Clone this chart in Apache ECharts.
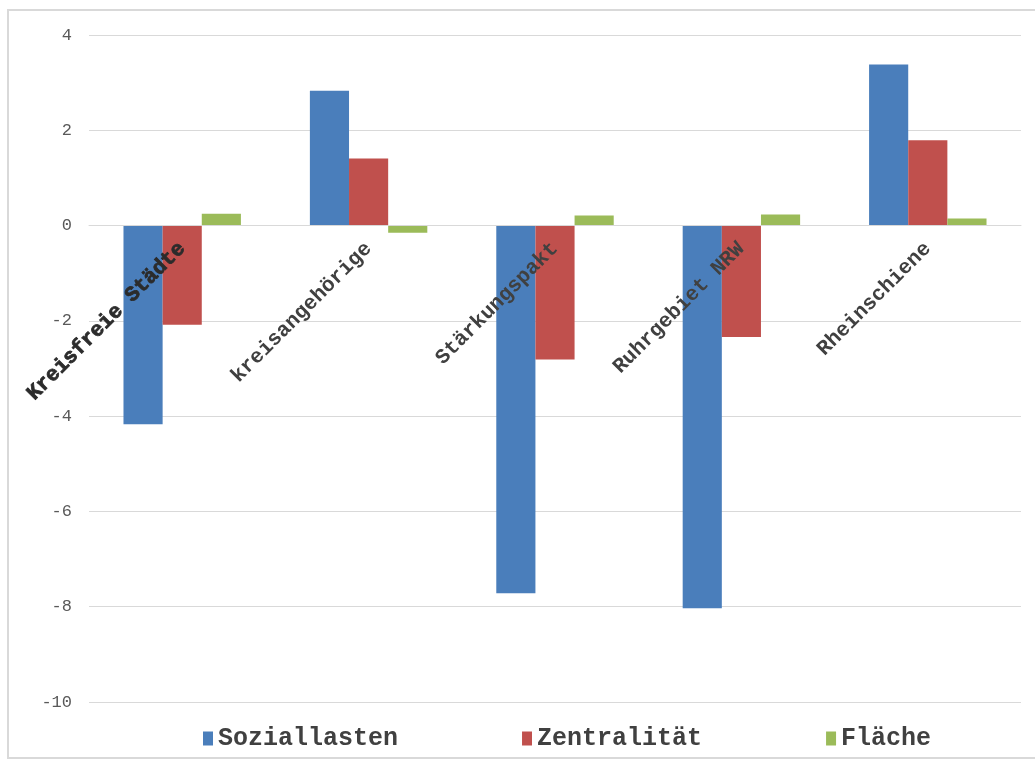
<!DOCTYPE html>
<html>
<head>
<meta charset="utf-8">
<script src="https://cdn.jsdelivr.net/npm/echarts@6/dist/echarts.min.js"></script>
<style>
  html, body { margin: 0; padding: 0; background: #ffffff; }
  #chart { width: 1035px; height: 763px; }
</style>
</head>
<body>
<div id="chart"></div>
<script>
// Regional groups and their index components
const categories = ['Kreisfreie Städte', 'kreisangehörige', 'Stärkungspakt', 'Ruhrgebiet NRW', 'Rheinschiene'];
const seriesNames = ['Soziallasten', 'Zentralität', 'Fläche'];
const soziallasten = [-4.17, 2.83, -7.72, -8.03, 3.38];
const zentralitaet = [-2.08, 1.41, -2.81, -2.34, 1.79];
const flaeche = [0.25, -0.15, 0.21, 0.23, 0.15];
const yTicks = { min: -10, max: 4, step: 2 };

const colors = ['#4A7EBB', '#C0504D', '#9BBB59'];
const mono = '"Liberation Mono", "DejaVu Sans Mono", monospace';

// plot box
const gridTop = 35, gridBottom = 61, chartH = 763;
const plotH = chartH - gridTop - gridBottom;
// distance from the bottom edge of the plot up to the value 0
const zeroLift = plotH * (0 - yTicks.min) / (yTicks.max - yTicks.min);

const chart = echarts.init(document.getElementById('chart'), null, { renderer: 'canvas' });

chart.setOption({
  backgroundColor: '#ffffff',
  animation: false,
  color: colors,
  graphic: [{
    type: 'rect',
    shape: { x: 8, y: 10, width: 1040, height: 748 },
    style: { fill: 'none', stroke: '#d9d9d9', lineWidth: 2 },
    silent: true,
    z: -1
  }],
  grid: { left: 89, right: 14, top: gridTop, bottom: gridBottom, containLabel: false, outerBoundsMode: 'none' },
  legend: {
    left: 198,
    top: 721,
    itemGap: 124,
    itemWidth: 10,
    itemHeight: 14,
    icon: 'rect',
    textStyle: { fontFamily: mono, fontSize: 25, fontWeight: 'bold', color: '#404040' },
    data: seriesNames
  },
  xAxis: {
    type: 'category',
    data: categories,
    position: 'bottom',
    offset: -zeroLift,
    z: 10,
    axisLine: { onZero: false, lineStyle: { color: '#d9d9d9', width: 1 } },
    axisTick: { show: false },
    splitLine: { show: false },
    axisLabel: {
      interval: 0,
      rotate: 45,
      margin: 20,
      fontFamily: mono,
      fontSize: 21,
      fontWeight: 'bold',
      color: '#404040',
      formatter: (v, i) => i === 0 ? '{first|' + v + '}' : v,
      rich: {
        first: {
          fontFamily: mono,
          fontSize: 21,
          fontWeight: 'bold',
          color: '#2b2b2b',
          textBorderColor: '#2b2b2b',
          textBorderWidth: 0.8
        }
      }
    }
  },
  yAxis: {
    type: 'value',
    min: yTicks.min,
    max: yTicks.max,
    interval: yTicks.step,
    axisLine: { show: false },
    axisTick: { show: false },
    splitLine: { lineStyle: { color: '#d9d9d9', width: 1 } },
    axisLabel: {
      margin: 17,
      fontFamily: mono,
      fontSize: 17,
      color: '#595959'
    }
  },
  series: [
    { name: seriesNames[0], type: 'bar', data: soziallasten, barGap: '0%', barCategoryGap: '37%' },
    { name: seriesNames[1], type: 'bar', data: zentralitaet, barGap: '0%', barCategoryGap: '37%' },
    { name: seriesNames[2], type: 'bar', data: flaeche, barGap: '0%', barCategoryGap: '37%' }
  ]
});
</script>
</body>
</html>
